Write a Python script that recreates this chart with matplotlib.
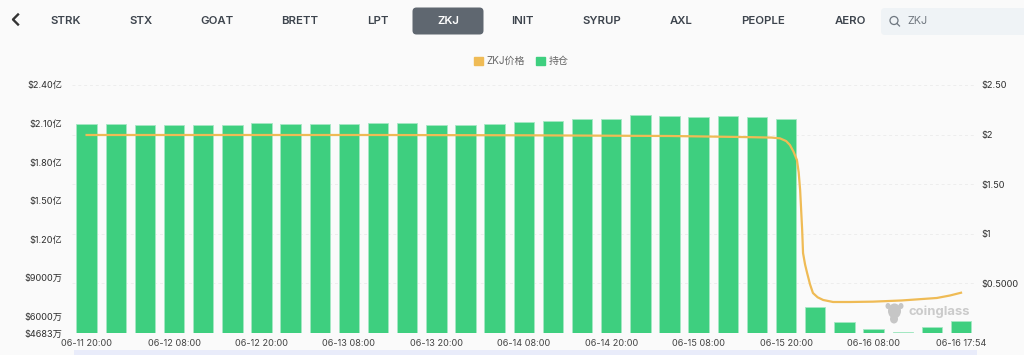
import matplotlib
matplotlib.use('Agg')
import matplotlib.pyplot as plt
from matplotlib.patches import FancyBboxPatch, Patch, Rectangle, Circle, Ellipse

bg = '#FAFAFA'
fonts = ['Inter', 'Noto Sans CJK SC', 'DejaVu Sans']
plt.rcParams['font.family'] = fonts

tabs = ['STRK', 'STX', 'GOAT', 'BRETT', 'LPT', 'ZKJ', 'INIT', 'SYRUP', 'AXL', 'PEOPLE', 'AERO']
tab_x = [66, 141, 217, 300, 377.5, 448, 522, 602, 681, 763, 850]

# open interest, in 万 USD, one bar per 4h
oi = [20962, 20962, 20884, 20884, 20884, 20884, 21040, 20962, 20962, 21001,
      21079, 21040, 20923, 20923, 20939, 21094, 21172, 21328, 21351, 21663,
      21608, 21507, 21585, 21507, 21351, 6706, 5538, 4969, 4735, 5125, 5616]

# price, position in bar index
price_pos = [0, 5, 10, 15, 20, 22.4, 23.5, 23.79, 24.0, 24.13, 24.25, 24.37, 24.43, 24.48, 24.55, 24.58, 24.65,
             24.72, 24.82, 24.92, 25.08, 25.27, 25.61, 26.19, 26.98, 27.97, 29.17, 29.62, 30]
price = [1.996, 1.996, 1.996, 1.993, 1.986, 1.976, 1.97, 1.962, 1.935, 1.895, 1.83, 1.744, 1.62, 1.442, 1.038, 0.806, 0.69,
         0.605, 0.49, 0.403, 0.36, 0.333, 0.3125, 0.3125, 0.316, 0.328, 0.353, 0.378, 0.406]

xtick_pos = [0, 3, 6, 9, 12, 15, 18, 21, 24, 27, 30]
xtick_labels = ['06-11 20:00', '06-12 08:00', '06-12 20:00', '06-13 08:00', '06-13 20:00', '06-14 08:00',
                '06-14 20:00', '06-15 08:00', '06-15 20:00', '06-16 08:00', '06-16 17:54']
left_ticks = [24000, 21000, 18000, 15000, 12000, 9000, 6000, 4683]
left_labels = ['$2.40亿', '$2.10亿', '$1.80亿', '$1.50亿', '$1.20亿', '$9000万', '$6000万', '$4683万']
right_ticks = [0.5, 1, 1.5, 2, 2.5]
right_labels = ['$0.5000', '$1', '$1.50', '$2', '$2.50']

fig = plt.figure(figsize=(10.24, 3.55), dpi=100, facecolor=bg)
W, H = 1024, 355
ax = fig.add_axes([72 / W, 1 - 333 / H, 903.6 / W, 248 / H])
ax.set_facecolor('none')
ax2 = ax.twinx()

ax.bar(range(len(oi)), oi, width=0.70, color='#3ECF7F', edgecolor='#A5E8C4', linewidth=0.6, zorder=2)
ax.set_xlim(-0.5, 30.5)
ax.set_ylim(4683, 24000)
ax2.set_ylim(0, 2.5)
ax2.plot(price_pos, price, color='#EFBB55', lw=1.6, zorder=3)

# grid follows the price axis and sits behind the bars
ax.hlines([0] + right_ticks, -0.5, 30.5, transform=ax2.transData, color='#EDEDED', lw=0.7,
          linestyles=(0, (3, 3)), zorder=1)

ax.set_xticks(xtick_pos, xtick_labels)
ax.set_yticks(left_ticks, left_labels)
ax2.set_yticks(right_ticks, right_labels)
ax.tick_params(axis='x', length=0, pad=4, labelsize=6.6, labelcolor='#444444')
ax.tick_params(axis='y', length=0, pad=7, labelsize=6.6, labelcolor='#2E2E2E')
ax2.tick_params(axis='y', length=0, pad=4, labelsize=6.6, labelcolor='#2E2E2E')
for a in (ax, ax2):
    for s in a.spines.values():
        s.set_visible(False)

ax.legend(handles=[Patch(color='#EFBB55', label='ZKJ价格'), Patch(color='#3ECF7F', label='持仓')],
          ncol=2, frameon=False, loc='center', bbox_to_anchor=(521.5 / W, 1 - 61 / H),
          bbox_transform=fig.transFigure, fontsize=7.2, labelcolor='#666666', handlelength=0.85,
          handleheight=0.85, handletextpad=0.4, columnspacing=1.1)

# page chrome around the chart, in pixel coordinates
ov = fig.add_axes([0, 0, 1, 1], zorder=-1)
ov.set_xlim(0, W)
ov.set_ylim(H, 0)
ov.axis('off')
top = fig.add_axes([0, 0, 1, 1], zorder=5)
top.set_xlim(0, W)
top.set_ylim(H, 0)
top.axis('off')

ov.add_patch(FancyBboxPatch((416.5, 11.5), 63, 19, boxstyle='round,pad=4,rounding_size=4',
                            facecolor='#5F6770', lw=0))
ov.add_patch(FancyBboxPatch((885, 12), 150, 19, boxstyle='round,pad=4,rounding_size=4',
                            facecolor='#EFF3F6', lw=0))
ov.add_patch(Rectangle((74, 350), 903, 5, facecolor='#E9ECFA', lw=0))

for t, x in zip(tabs, tab_x):
    ov.text(x, 21, t, ha='center', va='center', fontsize=8.2, fontweight='semibold',
            color='white' if t == 'ZKJ' else '#3D444D')
ov.plot([18, 13, 18], [14.5, 19.5, 24.5], color='#333333', lw=1.7)
ov.add_patch(Circle((894, 20.5), 4, facecolor='none', edgecolor='#6E7780', lw=0.9))
ov.plot([897, 899.5], [23.5, 26], color='#6E7780', lw=0.9)
ov.text(907, 21, 'ZKJ', ha='left', va='center', fontsize=7.8, color='#70777F')

# watermark
top.text(908.5, 312, 'coinglass', ha='left', va='center', fontsize=9.4, fontweight='bold', color='#CBCBCB')
top.add_patch(Ellipse((894.5, 311), 13, 15, facecolor='#C6C6C6', lw=0))
top.add_patch(Ellipse((894, 319), 8, 9, facecolor='#C6C6C6', lw=0))
top.add_patch(Ellipse((888, 306), 5, 6, facecolor='#C6C6C6', lw=0))
top.add_patch(Ellipse((901, 306), 5, 6, facecolor='#C6C6C6', lw=0))

fig.savefig('out.png', dpi=100, facecolor=bg)
